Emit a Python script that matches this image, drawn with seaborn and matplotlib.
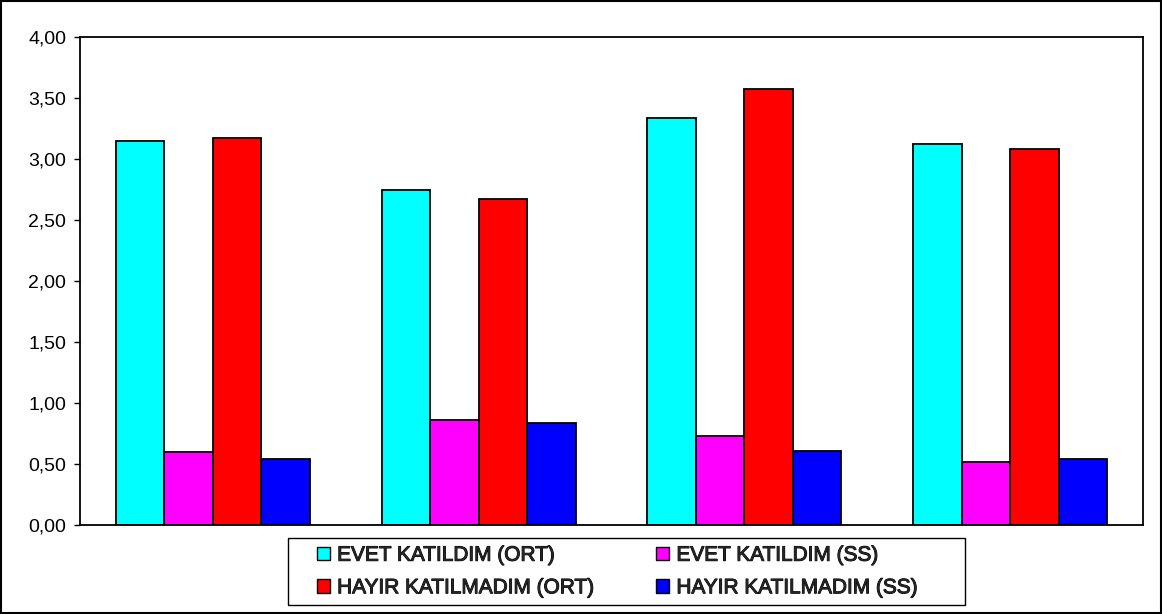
import matplotlib
matplotlib.use("Agg")
import matplotlib.pyplot as plt
import matplotlib.patheffects as pe
import seaborn as sns
import pandas as pd
from matplotlib.patches import Rectangle
from matplotlib.ticker import FuncFormatter

groups = ["1", "2", "3", "4"]
series = ["EVET KATILDIM (ORT)", "EVET KATILDIM (SS)", "HAYIR KATILMADIM (ORT)", "HAYIR KATILMADIM (SS)"]
evet_ort = [3.15, 2.75, 3.34, 3.12]
evet_ss = [0.60, 0.86, 0.73, 0.52]
hayir_ort = [3.17, 2.67, 3.57, 3.08]
hayir_ss = [0.54, 0.84, 0.61, 0.54]
colors = ["#00FFFF", "#FF00FF", "#FF0000", "#0000FF"]

rows = []
for s, vals in zip(series, [evet_ort, evet_ss, hayir_ort, hayir_ss]):
    for g, v in zip(groups, vals):
        rows.append({"grup": g, "seri": s, "deger": v})
df = pd.DataFrame(rows)

sns.set_theme(style="white")
plt.rcParams["font.family"] = ["Liberation Sans", "DejaVu Sans"]

fig = plt.figure(figsize=(11.62, 6.14), dpi=100)
ax = fig.add_axes([0.0688, 0.145, 0.9148, 0.7947])
sns.barplot(data=df, x="grup", y="deger", hue="seri", hue_order=series,
            palette=colors, edgecolor="black", linewidth=1.3, width=0.73,
            saturation=1, ax=ax, legend=False)

ax.set_ylim(0, 4)
ax.set_xlim(-0.5, 3.5)
ax.set_yticks([0, 0.5, 1, 1.5, 2, 2.5, 3, 3.5, 4])
ax.yaxis.set_major_formatter(FuncFormatter(lambda v, p: f"{v:.2f}".replace(".", ",")))
ax.set_xticks([])
ax.set_xlabel("")
ax.set_ylabel("")
ax.tick_params(axis="y", left=True, length=4, width=1, color="black", labelsize=14,
               labelcolor="black", pad=6)
for sp in ax.spines.values():
    sp.set_color("black")
    sp.set_linewidth(1.3)

handles = [Rectangle((0, 0), 1, 1, facecolor=c, edgecolor="black", linewidth=1) for c in colors]
order = [0, 2, 1, 3]
leg = fig.legend([handles[i] for i in order], [series[i] for i in order],
                 ncol=2, loc="center", bbox_to_anchor=(0.5315, 0.0692),
                 frameon=False, prop={"size": 15},
                 handlelength=0.63, handleheight=0.63, handletextpad=0.34,
                 columnspacing=2.95, borderpad=0.0, labelspacing=0.65)
for t in leg.get_texts():
    t.set_path_effects([pe.withStroke(linewidth=0.7, foreground="black")])

# legend frame box
fig.patches.append(Rectangle((288 / 1162, 1 - 605 / 614), (965 - 288) / 1162, (605 - 538) / 614,
                             transform=fig.transFigure, fill=False, edgecolor="black", linewidth=1))
# outer figure border
fig.patches.append(Rectangle((0.001, 0.001), 0.998, 0.997, transform=fig.transFigure,
                             fill=False, edgecolor="black", linewidth=1.5))

fig.savefig("out.png", dpi=100, facecolor="white")
